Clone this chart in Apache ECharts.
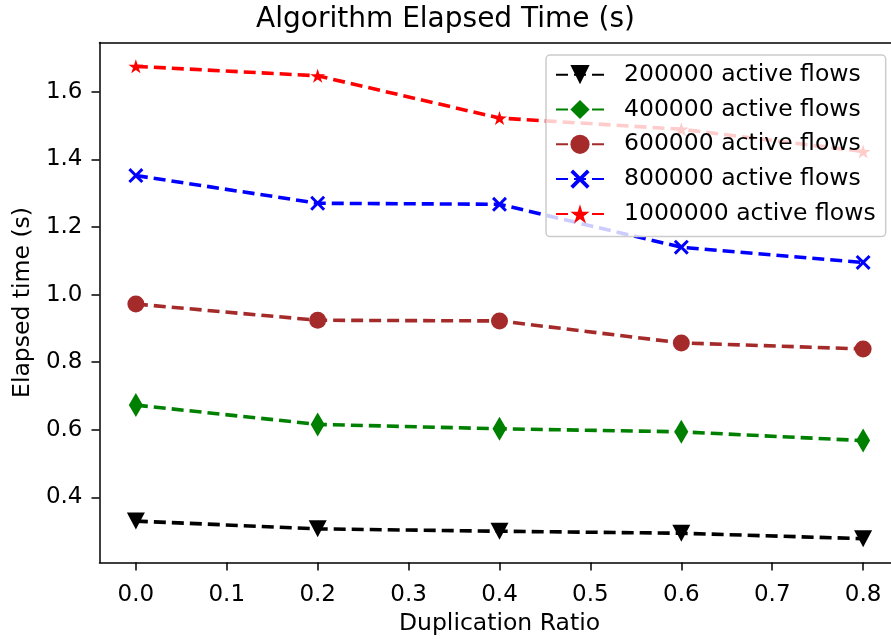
<!DOCTYPE html>
<html>
<head>
<meta charset="utf-8">
<script src="https://cdn.jsdelivr.net/npm/echarts@6/dist/echarts.min.js"></script>
<style>
  html, body { margin: 0; padding: 0; background: #fff; }
  #main { width: 891px; height: 639px; }
</style>
</head>
<body>
<div id="main"></div>
<script>
// duplication ratio on x
var ratios = [0.0, 0.2, 0.4, 0.6, 0.8];
var xTicks = [0.0, 0.1, 0.2, 0.3, 0.4, 0.5, 0.6, 0.7, 0.8];
var yTicks = [0.4, 0.6, 0.8, 1.0, 1.2, 1.4, 1.6];

// elapsed time (s)
var flows200k  = [0.330, 0.307, 0.300, 0.294, 0.278];
var flows400k  = [0.673, 0.616, 0.603, 0.594, 0.568];
var flows600k  = [0.972, 0.924, 0.922, 0.857, 0.839];
var flows800k  = [1.352, 1.270, 1.267, 1.140, 1.095];
var flows1000k = [1.675, 1.647, 1.522, 1.489, 1.423];

var names = ['200000 active flows', '400000 active flows', '600000 active flows',
             '800000 active flows', '1000000 active flows'];

var FONT = 'DejaVu Sans';
var starPath = 'path://M50,0 L61.17,34.63 L97.55,34.55 L68.07,55.87 L79.39,90.45 L50,69 L20.61,90.45 L31.93,55.87 L2.45,34.55 L38.83,34.63 Z';
var xPath = 'path://M0,1.4 L1.4,0 L5,3.6 L8.6,0 L10,1.4 L6.4,5 L10,8.6 L8.6,10 L5,6.4 L1.4,10 L0,8.6 L3.6,5 Z';

function pairs(vals) {
  return ratios.map(function (r, i) { return [r, vals[i]]; });
}

function mkSeries(name, vals, color, symbol, size, rotate) {
  return {
    name: name,
    type: 'line',
    data: pairs(vals),
    symbol: symbol,
    symbolSize: size,
    symbolRotate: rotate || 0,
    showSymbol: true,
    animation: false,
    lineStyle: { color: color, width: 3.6, type: [12, 6] },
    itemStyle: { color: color, borderWidth: 0 },
    emphasis: { disabled: true }
  };
}

var myChart = echarts.init(document.getElementById('main'));

var axisLineStyle = { color: '#000', width: 1.5 };

var option = {
  backgroundColor: '#fff',
  animation: false,
  title: {
    text: 'Algorithm Elapsed Time (s)',
    left: 'center',
    top: 6,
    padding: 0,
    textStyle: { fontFamily: FONT, fontSize: 28, fontWeight: 'normal', color: '#000' }
  },
  legend: {
    orient: 'vertical',
    left: 546,
    top: 55,
    padding: [7.7, 10, 10.7, 9],
    itemWidth: 48,
    itemHeight: 24,
    itemGap: 10.8,
    backgroundColor: 'rgba(255,255,255,0.8)',
    borderColor: '#cccccc',
    borderWidth: 1.5,
    borderRadius: 4,
    textStyle: { fontFamily: FONT, fontSize: 23.5, color: '#000', padding: [0, 0, 0, 15] },
    data: names
  },
  grid: {
    left: 99.5,
    top: 42.5,
    width: 800,
    height: 520,
    outerBoundsMode: 'none',
    containLabel: false,
    show: true,
    borderWidth: 0,
    backgroundColor: '#fff'
  },
  xAxis: [{
    type: 'value',
    min: -0.04,
    max: 0.84,
    name: 'Duplication Ratio',
    nameLocation: 'middle',
    nameGap: 48,
    nameTextStyle: { fontFamily: FONT, fontSize: 23.5, color: '#000' },
    axisLine: { show: true, onZero: false, lineStyle: axisLineStyle },
    axisTick: { show: true, length: 8, lineStyle: axisLineStyle, customValues: xTicks },
    axisLabel: {
      fontFamily: FONT, fontSize: 23, color: '#000', margin: 21,
      customValues: xTicks,
      formatter: function (v) { return v.toFixed(1); }
    },
    splitLine: { show: false }
  }, {
    // top spine only
    type: 'value',
    position: 'top',
    min: -0.04,
    max: 0.84,
    axisLine: { show: true, onZero: false, lineStyle: axisLineStyle },
    axisTick: { show: false },
    axisLabel: { show: false },
    splitLine: { show: false }
  }],
  yAxis: {
    type: 'value',
    min: 0.2075,
    max: 1.7455,
    name: 'Elapsed time (s)',
    nameLocation: 'middle',
    nameGap: 63,
    nameTextStyle: { fontFamily: FONT, fontSize: 23.5, color: '#000' },
    axisLine: { show: true, onZero: false, lineStyle: axisLineStyle },
    axisTick: { show: true, length: 8, lineStyle: axisLineStyle, customValues: yTicks },
    axisLabel: {
      fontFamily: FONT, fontSize: 23, color: '#000', margin: 17,
      customValues: yTicks,
      formatter: function (v) { return v.toFixed(1); }
    },
    splitLine: { show: false }
  },
  series: [
    mkSeries(names[0], flows200k, '#000000', 'triangle', [18, 17], 180),
    mkSeries(names[1], flows400k, '#008000', 'diamond', [14, 24]),
    mkSeries(names[2], flows600k, '#a52a2a', 'circle', 17),
    mkSeries(names[3], flows800k, '#0000ff', xPath, 15),
    mkSeries(names[4], flows1000k, '#ff0000', starPath, [15, 14])
  ]
};

myChart.setOption(option);
window.onresize = myChart.resize;
</script>
</body>
</html>
